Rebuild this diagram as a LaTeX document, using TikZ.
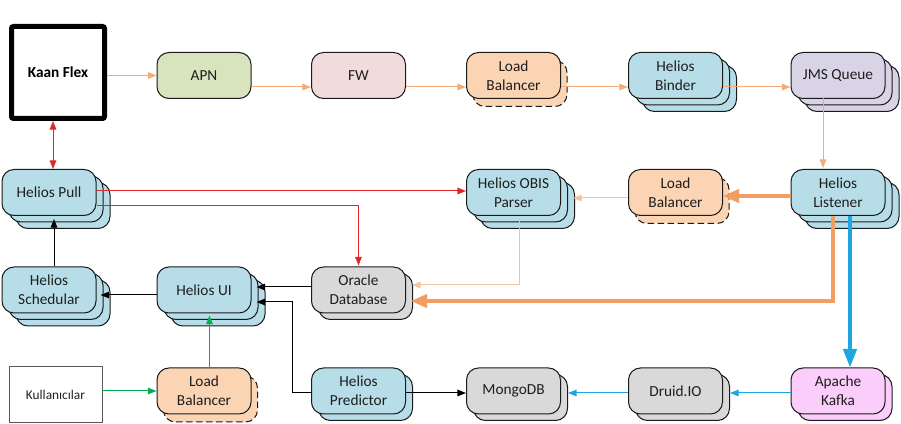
\documentclass[tikz,border=0pt]{standalone}
\usepackage{fontspec}
\setmainfont{Carlito}
\usetikzlibrary{arrows.meta,calc}
\definecolor{bordc}{HTML}{1A1A1A}
\definecolor{txtc}{HTML}{1E1E1E}
\definecolor{hblue}{HTML}{B7DEE8}
\definecolor{hgreen}{HTML}{D7E4BD}
\definecolor{hpink}{HTML}{F2DCDB}
\definecolor{hpeach}{HTML}{FBD4B4}
\definecolor{hlav}{HTML}{D9D3E6}
\definecolor{hgray}{HTML}{D9D9D9}
\definecolor{hmag}{HTML}{FBCDFB}
\definecolor{orthin}{HTML}{F2AC78}
\definecolor{orlight}{HTML}{F6C29C}
\definecolor{orthick}{HTML}{F19E62}
\definecolor{redc}{HTML}{E02828}
\definecolor{bluec}{HTML}{1FA5E0}
\definecolor{greenc}{HTML}{00B050}
\tikzset{
  box/.style={draw=bordc, line width=0.75pt, rounded corners=9pt, minimum width=70.5pt,
    minimum height=34.5pt, inner sep=0pt, align=center, text=txtc,
    font=\fontsize{11.5}{14.3}\selectfont},
  lbshadow/.style={box, dashed, dash pattern=on 5pt off 2.5pt},
  arr/.style={-{Triangle[length=6.5pt,width=5pt]}, line width=0.75pt},
  thickor/.style={-{Triangle[length=12pt,width=10pt]}, line width=2.5pt, orthick},
}
\newcommand\mkbox[6]{%
  \ifnum#5>1 \node[box,fill=#4] (#1-2) at (#2+14,#3+13) {};\fi
  \ifnum#5>0 \node[box,fill=#4] (#1-1) at (#2+7,#3+6.5) {};\fi
  \node[box,fill=#4] (#1) at (#2,#3) {#6};}
\newcommand\mklb[3]{%
  \node[lbshadow,fill=hpeach] (#1-1) at (#2+6.5,#3+8) {};
  \node[box,fill=hpeach] (#1) at (#2,#3) {Load\\Balancer};}
\begin{document}
\begin{tikzpicture}[x=0.75pt,y=-0.75pt]
\useasboundingbox (0,0) rectangle (901,424);
% nodes
\node[draw=black, line width=3.75pt, rounded corners=1.5pt, minimum width=69.75pt, minimum height=69pt,
  inner sep=0pt, font=\fontsize{11.5}{14}\selectfont\bfseries] (kaan) at (58,72.5) {Kaan Flex};
\mkbox{apn}{204}{75.5}{hgreen}{0}{APN}
\mkbox{fw}{358.5}{75.5}{hpink}{0}{FW}
\mklb{lbA}{513.5}{75.5}
\mkbox{binder}{675.5}{75.5}{hblue}{2}{Helios\\Binder}
\mkbox{jms}{838}{75.5}{hlav}{2}{JMS Queue}
\mkbox{pull}{49}{192.5}{hblue}{2}{Helios Pull}
\mkbox{obis}{513.5}{192.5}{hblue}{2}{Helios OBIS\\Parser}
\mklb{lbB}{675.5}{192.5}
\mkbox{listener}{838}{192.5}{hblue}{2}{Helios\\Listener}
\mkbox{sched}{49}{290}{hblue}{2}{Helios\\Schedular}
\mkbox{ui}{204}{290}{hblue}{2}{Helios UI}
\mkbox{oracle}{358.5}{290}{hgray}{1}{Oracle\\Database}
\node[draw=black!65, line width=0.75pt, minimum width=69.75pt, minimum height=42pt, inner sep=0pt,
  text=txtc, font=\fontsize{10}{12}\selectfont] (kul) at (55.5,395) {Kullanıcılar};
\mklb{lbC}{204}{391}
\mkbox{pred}{358.5}{391}{hblue}{1}{Helios\\Predictor}
\mkbox{mongo}{513.5}{391}{hgray}{1}{MongoDB}
\mkbox{druid}{675.5}{391}{hgray}{1}{Druid.IO}
\mkbox{kafka}{838}{391}{hmag}{1}{Apache\\Kafka}
% top row
\draw[arr,orthin] (kaan.east |- apn.west) -- (apn.west);
\draw[arr,orthin] ($(apn.east)+(0,11.5)$) -- ($(fw.west)+(0,11.5)$);
\draw[arr,orthin] ($(fw.east)+(0,11.5)$) -- ($(lbA.west)+(0,11.5)$);
\draw[arr,orthin] ($(lbA.east)+(0,11.5)$) -- ($(binder.west)+(0,11.5)$);
\draw[arr,orthin] ($(binder.east)+(0,11.5)$) -- ($(jms.west)+(0,11.5)$);
\draw[arr,orthin] ($(jms.south)+(-15,-2)$) -- ($(listener.north)+(-15,-1)$);
% middle
\draw[thickor] ($(listener.west)+(0,3.5)$) -- ($(lbB.east)+(0,3.5)$);
\draw[arr,orlight] ($(lbB.west)+(0,5.5)$) -- ($(obis.east)+(12,5.5)$);
\draw[line width=0.75pt,redc,{Triangle[length=6.5pt,width=5pt]}-{Triangle[length=6.5pt,width=5pt]}]
  ($(kaan.south)+(-5,0)$) -- ($(pull.north)+(4,0)$);
\draw[arr,redc] ($(pull.east)+(0,-1.5)$) -- ($(obis.west)+(0,-1.5)$);
\draw[arr,redc] ($(pull.east)+(0,13.5)$) -| ($(oracle.north)+(0,-1)$);
\draw[arr,orlight] ($(obis.south)+(5.5,0)$) |- ($(oracle.east)+(6,-5)$);
\draw[thickor] ($(listener.south)+(-5,0)$) |- ($(oracle.east)+(5,11)$);
\draw[-{Triangle[length=14pt,width=10pt]}, line width=3pt, bluec]
  ($(listener.south)+(12,0)$) -- ($(kafka.north)+(12,0)$);
% bottom
\draw[arr,bluec] ($(kafka.west)+(0,2)$) -- ($(druid.east)+(7,2)$);
\draw[arr,bluec] ($(druid.west)+(0,2)$) -- ($(mongo.east)+(7,2)$);
\draw[arr,black] ($(pred.east)+(0,2)$) -- ($(mongo.west)+(0,2)$);
\draw[arr,black] ($(pred.west)+(0,2)$) -- ++(-19,0) |- ($(ui.east)+(5,12)$);
\draw[arr,black] ($(oracle.west)+(0,-3)$) -- ($(ui.east)+(5,-3)$);
\draw[arr,black] ($(ui.west)+(0,5)$) -- ($(sched.east)+(4,5)$);
\draw[arr,black] ($(sched.north)+(5,0)$) -- ($(pull.south)+(5,3)$);
\draw[arr,greenc] (kul.east |- lbC.west) -- (lbC.west);
\draw[arr,greenc,line width=0.9pt] ($(lbC.north)+(5.5,0)$) -- ($(ui.south)+(5.5,2)$);
\end{tikzpicture}
\end{document}
